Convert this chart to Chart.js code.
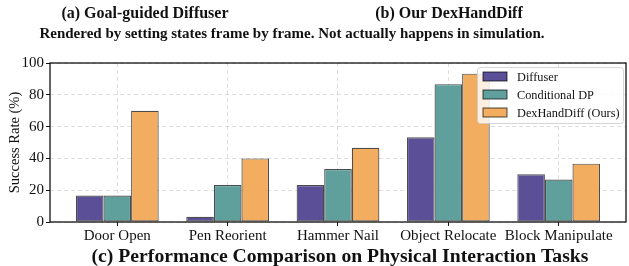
<!DOCTYPE html>
<html>
<head>
<meta charset="utf-8">
<script src="https://cdn.jsdelivr.net/npm/chart.js@4.4.1/dist/chart.umd.min.js"></script>
<style>
  html, body { margin: 0; padding: 0; background: #fff; }
  canvas { display: block; }
</style>
</head>
<body>
<canvas id="myChart" width="629" height="266"></canvas>
<script>
// data
var tasks = ['Door Open', 'Pen Reorient', 'Hammer Nail', 'Object Relocate', 'Block Manipulate'];
var seriesNames = ['Diffuser', 'Conditional DP', 'DexHandDiff (Ours)'];
var diffuser = [16.7, 3.3, 23.3, 53.3, 30.0];
var conditionalDP = [16.7, 23.3, 33.3, 86.7, 26.7];
var dexHandDiff = [70.0, 40.0, 46.7, 93.3, 36.7];
var yTicks = [0, 20, 40, 60, 80, 100];

var colors = ['rgb(91, 79, 151)', 'rgb(95, 160, 157)', 'rgb(242, 173, 96)'];
var serif = '"Liberation Serif", "Times New Roman", serif';

function toPoints(arr) {
    return arr.map(function (v, i) { return { x: i, y: v }; });
}

var datasets = [diffuser, conditionalDP, dexHandDiff].map(function (arr, i) {
    return {
        label: seriesNames[i],
        data: toPoints(arr),
        backgroundColor: colors[i],
        borderColor: 'rgba(0, 0, 0, 0.7)',
        borderWidth: 1.2,
        borderSkipped: false,
        categoryPercentage: 0.75,
        barPercentage: 1.0
    };
});

// titles, frame and legend
var decorPlugin = {
    id: 'decor',
    afterDatasetsDraw: function (chart) {
        var ctx = chart.ctx;
        ctx.save();
        // legend box
        var lx = 477, ly = 67, lw = 146, lh = 56;
        ctx.fillStyle = 'rgba(255, 255, 255, 0.8)';
        ctx.strokeStyle = 'rgba(204, 204, 204, 0.8)';
        ctx.lineWidth = 1;
        ctx.beginPath();
        ctx.roundRect(lx + 0.5, ly + 0.5, lw, lh, 3);
        ctx.fill();
        ctx.stroke();
        ctx.font = '12.3px ' + serif;
        ctx.textBaseline = 'middle';
        ctx.textAlign = 'left';
        chart.data.datasets.forEach(function (ds, i) {
            var y = ly + 9.5 + i * 18;
            ctx.fillStyle = ds.backgroundColor;
            ctx.fillRect(483, y - 4.5, 24, 9);
            ctx.strokeStyle = 'rgba(0, 0, 0, 0.7)';
            ctx.lineWidth = 1;
            ctx.strokeRect(483, y - 4.5, 24, 9);
            ctx.fillStyle = '#111';
            ctx.fillText(ds.label, 517, y + 1);
        });
        ctx.restore();
    },
    afterDraw: function (chart) {
        var ctx = chart.ctx;
        var a = chart.chartArea;
        ctx.save();
        ctx.strokeStyle = '#111';
        ctx.lineWidth = 1.3;
        ctx.strokeRect(a.left, a.top, a.right - a.left, a.bottom - a.top);

        ctx.fillStyle = '#111';
        ctx.textAlign = 'center';
        ctx.textBaseline = 'middle';
        ctx.font = 'bold 16px ' + serif;
        ctx.fillText('(a) Goal-guided Diffuser', 145, 14);
        ctx.fillText('(b) Our DexHandDiff', 449, 14);
        ctx.font = 'bold 15px ' + serif;
        ctx.fillText('Rendered by setting states frame by frame. Not actually happens in simulation.', 292, 34);
        ctx.font = 'bold 19.7px ' + serif;
        ctx.fillText('(c) Performance Comparison on Physical Interaction Tasks', 340, 257);
        ctx.restore();
    }
};

new Chart(document.getElementById('myChart'), {
    type: 'bar',
    data: { datasets: datasets },
    options: {
        responsive: false,
        animation: false,
        layout: { padding: { top: 63, right: 3, left: 0, bottom: 0 } },
        plugins: {
            legend: { display: false },
            tooltip: { enabled: false }
        },
        scales: {
            x: {
                type: 'linear',
                offset: false,
                min: -0.61,
                max: 4.61,
                afterBuildTicks: function (scale) {
                    scale.ticks = tasks.map(function (t, i) { return { value: i }; });
                },
                afterFit: function (scale) { scale.height = 44; },
                ticks: {
                    autoSkip: false,
                    maxRotation: 0,
                    color: '#111',
                    font: { family: serif, size: 15 },
                    padding: 1,
                    callback: function (v) { return tasks[v]; }
                },
                grid: {
                    offset: false,
                    color: 'rgba(0, 0, 0, 0.13)',
                    tickColor: '#111',
                    tickLength: 4,
                    tickBorderDash: []
                },
                border: { display: false, dash: [4, 3] }
            },
            y: {
                min: 0,
                max: 100,
                afterBuildTicks: function (scale) {
                    scale.ticks = yTicks.map(function (v) { return { value: v }; });
                },
                afterFit: function (scale) { scale.width = 50; },
                ticks: {
                    color: '#111',
                    font: { family: serif, size: 15 },
                    padding: 2
                },
                title: {
                    display: true,
                    text: 'Success Rate (%)',
                    color: '#111',
                    font: { family: serif, size: 14.5 },
                    padding: { top: 6, bottom: 0 }
                },
                grid: {
                    color: 'rgba(0, 0, 0, 0.13)',
                    tickColor: '#111',
                    tickLength: 4,
                    tickBorderDash: []
                },
                border: { display: false, dash: [4, 3] }
            }
        }
    },
    plugins: [decorPlugin]
});
</script>
</body>
</html>
